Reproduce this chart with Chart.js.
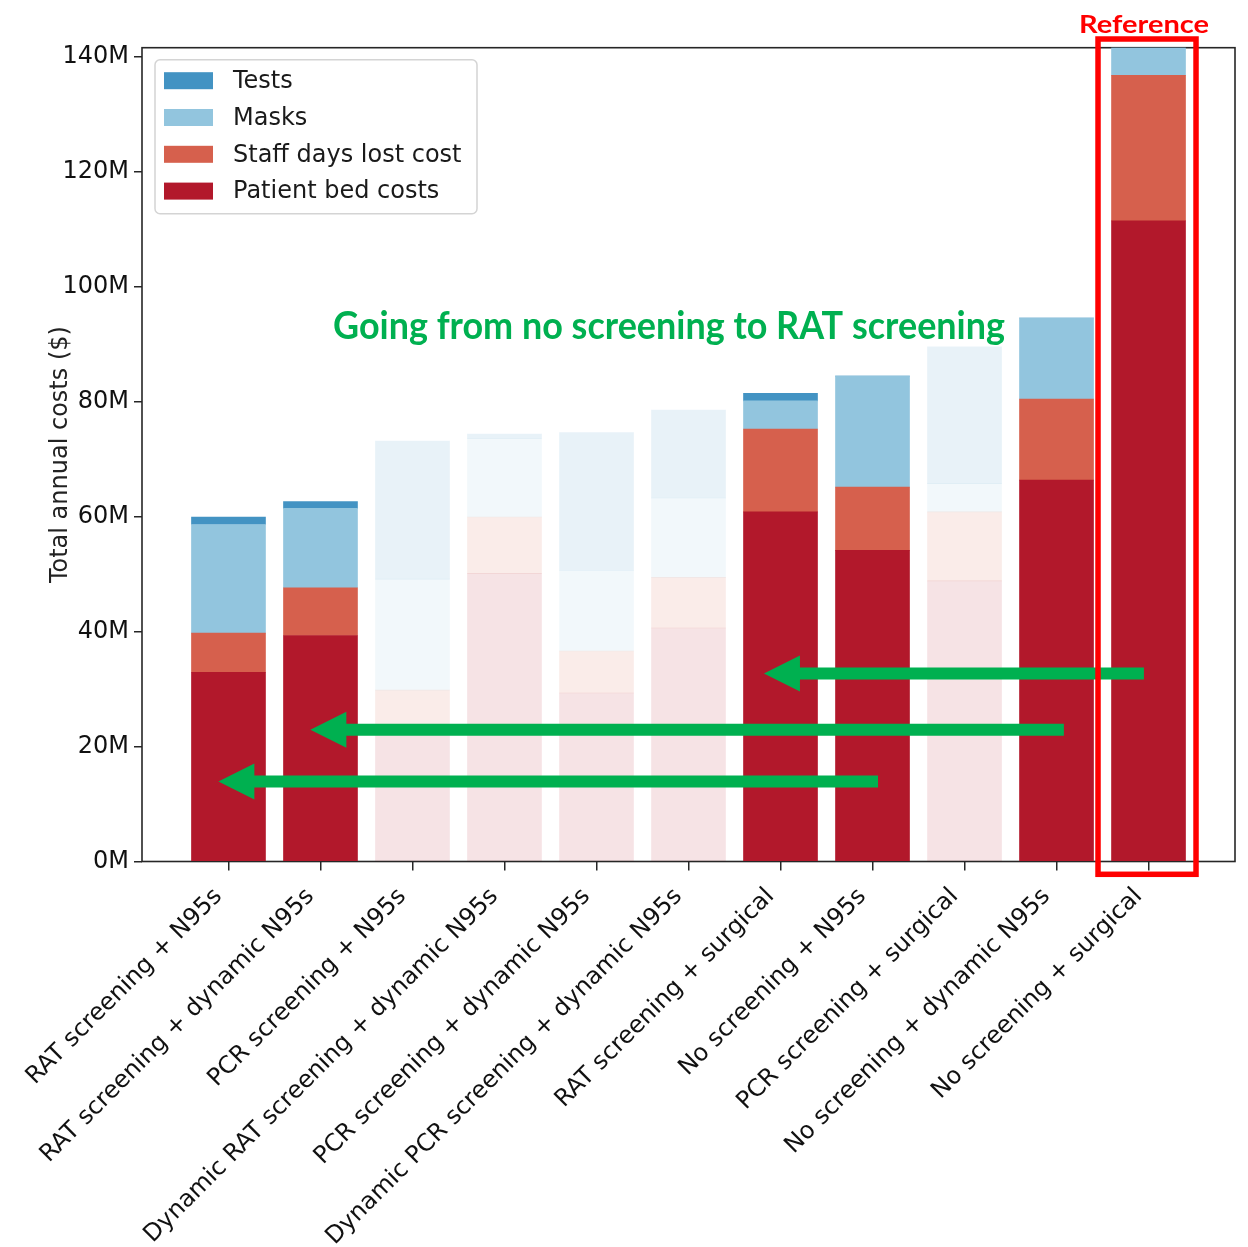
<!DOCTYPE html>
<html>
<head>
<meta charset="utf-8">
<script src="https://cdn.jsdelivr.net/npm/chart.js@4.4.1/dist/chart.umd.min.js"></script>
<style>
  html, body { margin: 0; padding: 0; background: #fff; }
</style>
</head>
<body>
<canvas id="costChart" width="1248" height="1247"></canvas>
<script>
// Strategies, in plotted order
const categories = [
    'RAT screening + N95s',
    'RAT screening + dynamic N95s',
    'PCR screening + N95s',
    'Dynamic RAT screening + dynamic N95s',
    'PCR screening + dynamic N95s',
    'Dynamic PCR screening + dynamic N95s',
    'RAT screening + surgical',
    'No screening + N95s',
    'PCR screening + surgical',
    'No screening + dynamic N95s',
    'No screening + surgical'
];

// Cost components, millions of $
const patientBed = [32.9, 39.3, 23.0, 50.1, 29.3, 40.6, 60.8, 54.1, 48.8, 66.3, 111.4];
const staffDays  = [6.8, 8.3, 6.8, 9.8, 7.3, 8.8, 14.4, 11.0, 12.0, 14.1, 25.3];
const masks      = [18.9, 13.8, 19.3, 13.6, 14.0, 13.8, 4.9, 19.3, 4.9, 14.1, 4.9];
const tests      = [1.3, 1.2, 24.0, 0.8, 24.0, 15.3, 1.3, 0, 23.8, 0, 0];

// bars shown greyed out
const fadedBars = [2, 3, 4, 5, 8];

const yTicks = [0, 20, 40, 60, 80, 100, 120, 140];
const yMax = 141.5;

const colors = {
    tests: '#4393c3',
    masks: '#92c5de',
    staff: '#d6604d',
    patient: '#b2182b'
};

// arrows: from / to on the category axis, height in M$
const arrows = [
    { from: 9.95, to: 5.82, y: 32.7 },
    { from: 9.08, to: 0.89, y: 22.9 },
    { from: 7.06, to: -0.11, y: 13.9 }
];

const FONT = 'DejaVu Sans';

function fade(hex, a) {
    const r = parseInt(hex.slice(1, 3), 16), g = parseInt(hex.slice(3, 5), 16), b = parseInt(hex.slice(5, 7), 16);
    return `rgba(${r},${g},${b},${a})`;
}

function barColors(hex) {
    return categories.map((_, i) => fadedBars.includes(i) ? fade(hex, 0.12) : hex);
}

function series(label, values, hex) {
    return {
        label,
        data: values.map((v, i) => ({ x: i, y: v })),
        backgroundColor: barColors(hex),
        borderWidth: 0,
        barThickness: 74
    };
}

const notesPlugin = {
    id: 'notes',
    beforeDatasetsDraw(chart) {
        const { ctx, chartArea: a } = chart;
        ctx.save();
        ctx.strokeStyle = '#262626';
        ctx.lineWidth = 1.6;
        ctx.strokeRect(a.left, a.top, a.right - a.left, a.bottom - a.top);
        ctx.restore();
    },
    afterDraw(chart) {
        const { ctx, chartArea: a } = chart;
        const xs = chart.scales.x, ys = chart.scales.y;
        ctx.save();

        // legend box
        const lx = a.left + 13, ly = a.top + 12, lw = 322, lh = 154;
        ctx.beginPath();
        ctx.roundRect(lx, ly, lw, lh, 5);
        ctx.fillStyle = 'rgba(255,255,255,0.85)';
        ctx.fill();
        ctx.strokeStyle = '#d4d4d4';
        ctx.lineWidth = 1.5;
        ctx.stroke();
        const items = [
            ['Tests', colors.tests],
            ['Masks', colors.masks],
            ['Staff days lost cost', colors.staff],
            ['Patient bed costs', colors.patient]
        ];
        ctx.font = `24px "${FONT}"`;
        ctx.textBaseline = 'middle';
        ctx.textAlign = 'left';
        items.forEach(([txt, col], i) => {
            const cy = a.top + 33 + i * 36.8;
            ctx.fillStyle = col;
            ctx.fillRect(lx + 9, cy - 8.5, 49, 17);
            ctx.fillStyle = '#1a1a1a';
            ctx.fillText(txt, lx + 78, cy + 1);
        });

        // green caption
        const green = '#00b050';
        const caption = 'Going from no screening to RAT screening';
        ctx.font = 'bold 39px Lato';
        const cw = ctx.measureText(caption).width;
        ctx.save();
        ctx.translate(669, 339);
        ctx.scale(672 / cw, 1);
        ctx.fillStyle = green;
        ctx.textAlign = 'center';
        ctx.textBaseline = 'alphabetic';
        ctx.fillText(caption, 0, 0);
        ctx.restore();

        // arrows
        ctx.fillStyle = green;
        arrows.forEach(ar => {
            const x0 = xs.getPixelForValue(ar.from);
            const x1 = xs.getPixelForValue(ar.to);
            const y = ys.getPixelForValue(ar.y);
            const head = 36, half = 18, shaft = 6;
            ctx.beginPath();
            ctx.moveTo(x0, y - shaft);
            ctx.lineTo(x1 + head, y - shaft);
            ctx.lineTo(x1 + head, y - half);
            ctx.lineTo(x1, y);
            ctx.lineTo(x1 + head, y + half);
            ctx.lineTo(x1 + head, y + shaft);
            ctx.lineTo(x0, y + shaft);
            ctx.closePath();
            ctx.fill();
        });

        // reference box
        const rc = xs.getPixelForValue(10);
        ctx.strokeStyle = '#ff0000';
        ctx.lineWidth = 5.5;
        ctx.strokeRect(rc - 50.5, a.top - 8.7, 98, a.bottom - a.top + 21.5);
        const ref = 'Reference';
        ctx.font = 'bold 25px Lato';
        const rw = ctx.measureText(ref).width;
        ctx.save();
        ctx.translate(1144, 33);
        ctx.scale(130 / rw, 1);
        ctx.fillStyle = '#ff0000';
        ctx.textAlign = 'center';
        ctx.textBaseline = 'alphabetic';
        ctx.fillText(ref, 0, 0);
        ctx.restore();

        ctx.restore();
    }
};

Chart.defaults.color = '#000';
Chart.defaults.font.family = FONT;
Chart.defaults.font.size = 24;

new Chart(document.getElementById('costChart'), {
    type: 'bar',
    data: {
        datasets: [
            series('Patient bed costs', patientBed, colors.patient),
            series('Staff days lost cost', staffDays, colors.staff),
            series('Masks', masks, colors.masks),
            series('Tests', tests, colors.tests)
        ]
    },
    options: {
        responsive: false,
        animation: false,
        devicePixelRatio: 1,
        layout: { padding: { top: 47.7, right: 13, bottom: 0, left: 0 } },
        plugins: {
            legend: { display: false },
            tooltip: { enabled: false }
        },
        scales: {
            x: {
                type: 'linear',
                stacked: true,
                offset: false,
                min: -0.94,
                max: 10.94,
                afterBuildTicks: s => { s.ticks = categories.map((_, i) => ({ value: i })); },
                afterFit: s => { s.height = 1247 - 861.5; },
                border: { display: false },
                grid: { offset: false, drawOnChartArea: false, tickLength: 9, color: '#262626', lineWidth: 1.5 },
                ticks: {
                    autoSkip: false,
                    minRotation: 45,
                    maxRotation: 45,
                    padding: 12,
                    labelOffset: -10,
                    color: '#111',
                    callback: v => categories[v]
                }
            },
            y: {
                stacked: true,
                min: 0,
                max: yMax,
                afterBuildTicks: s => { s.ticks = yTicks.map(v => ({ value: v })); },
                afterFit: s => { s.width = 142; },
                border: { display: false },
                grid: { drawOnChartArea: false, tickLength: 8, color: '#262626', lineWidth: 1.5 },
                ticks: { padding: 5, color: '#111', callback: v => v + 'M' },
                title: {
                    display: true,
                    text: 'Total annual costs ($)',
                    color: '#222',
                    padding: { top: 46.6, bottom: 0 },
                    font: { size: 24 }
                }
            }
        }
    },
    plugins: [notesPlugin]
});
</script>
</body>
</html>
